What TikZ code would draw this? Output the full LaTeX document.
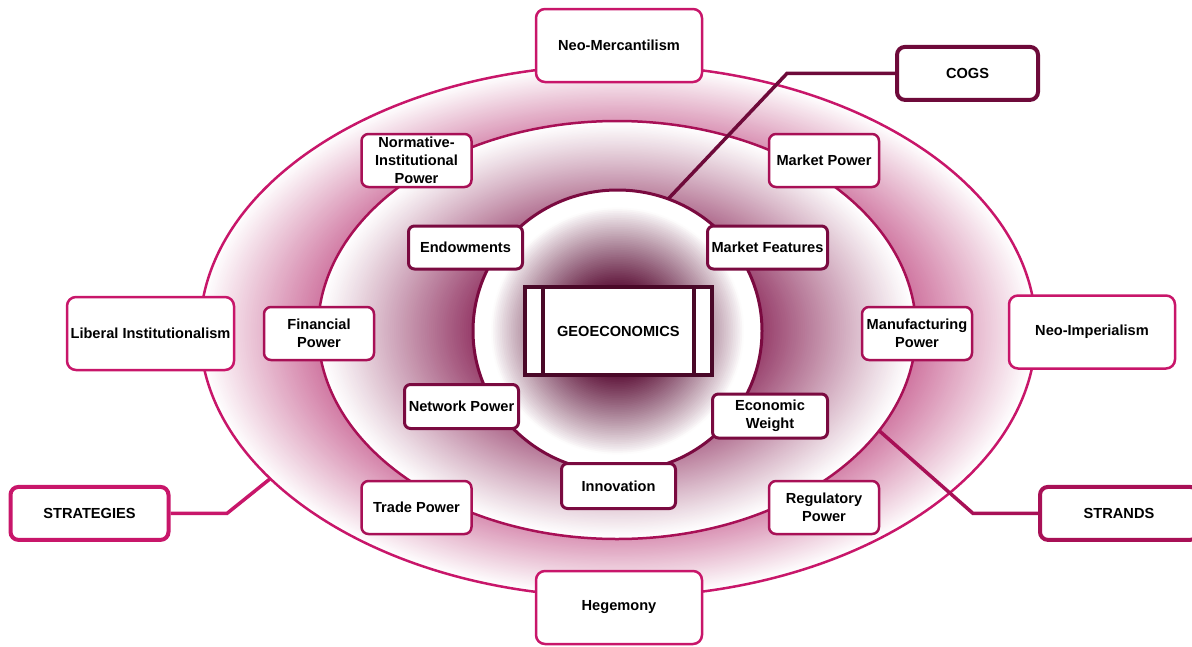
\documentclass[tikz,border=0pt]{standalone}
\usepackage{fontspec}
\setmainfont{Liberation Sans}
\usetikzlibrary{shapes.geometric}

% stroke colours of the three rings and their boxes
\definecolor{outerc}{RGB}{200,22,106}
\definecolor{midc}{RGB}{168,16,86}
\definecolor{innc}{RGB}{122,10,64}
\definecolor{cogsc}{RGB}{110,10,58}
\definecolor{geoc}{RGB}{74,8,40}
% glow colours of the ring fills
\definecolor{glowA}{RGB}{205,110,155}
\definecolor{glowB}{RGB}{150,60,105}
\definecolor{glowC}{RGB}{92,16,55}

\tikzset{
  lbl/.style={font=\fontsize{14.6}{18}\selectfont\bfseries, align=center,
    fill=white, inner sep=2pt},
  outerbox/.style={lbl, draw=outerc, line width=2.5pt, rounded corners=9pt,
    minimum width=166pt, minimum height=73pt},
  midbox/.style={lbl, draw=midc, line width=2.5pt, rounded corners=7pt,
    minimum width=110pt, minimum height=53pt},
  innerbox/.style={lbl, draw=innc, line width=3pt, rounded corners=6pt,
    minimum width=114pt, minimum height=43pt},
  tagbox/.style={lbl, line width=4pt, rounded corners=8pt,
    minimum width=141pt, minimum height=53pt},
  ring/.style={ellipse, inner sep=0pt, outer sep=0pt, line width=2.5pt},
  link/.style={line width=3.5pt, line join=miter},
}

\begin{document}
\begin{tikzpicture}[x=1pt,y=-1pt]
\useasboundingbox (0,0) rectangle (1192,646);

% glow of the outer ring: white at the rim, pink towards the middle
\foreach \k in {0,...,70} {
  \pgfmathsetmacro\f{1-0.34*\k/70}
  \pgfmathsetmacro\p{100*min(1,max(0,(1-\f)/0.30))}
  \fill[glowA!\p!white] (618,331) ellipse [x radius={418*\f}, y radius={266*\f}];
}
% glow of the middle ring
\foreach \k in {0,...,80} {
  \pgfmathsetmacro\f{1-0.55*\k/80}
  \pgfmathsetmacro\p{100*pow(min(1,max(0,(1-\f)/0.52)),1.1)}
  \fill[glowB!\p!white] (617,330) ellipse [x radius={299*\f}, y radius={209*\f}];
}
% dark glow at the heart of the inner circle
\foreach \k in {0,...,80} {
  \pgfmathsetmacro\f{1-\k/80}
  \pgfmathsetmacro\p{100*pow(min(1,max(0,(0.88-\f)/0.58)),0.9)}
  \fill[glowC!\p!white] (617.5,331) ellipse [x radius={144.5*\f}, y radius={141*\f}];
}

% the three nested rings
\node[ring, draw=outerc, minimum width=836pt, minimum height=532pt]
  (outer) at (618,331) {};
\node[ring, draw=midc, minimum width=598pt, minimum height=418pt]
  (middle) at (617,330) {};
\node[ring, draw=innc, line width=3pt, minimum width=289pt, minimum height=282pt]
  (inner) at (617.5,331) {};

% legend tags
\node[tagbox, draw=cogsc] (cogs) at (967.5,73.4) {COGS};
\node[tagbox, draw=outerc, minimum width=158pt] (strategies) at (89.5,513.4) {STRATEGIES};
\node[tagbox, draw=midc, minimum width=158pt] (strands) at (1119,513.4) {STRANDS};

% bend points of the tag connectors
\coordinate (cogsbend) at (787,73.4);
\coordinate (strandsbend) at (973,513.4);
\coordinate (stratbend) at (227,513.4);

\draw[link, draw=cogsc] (inner.69.6) -- (cogsbend) -- (cogs.west);
\draw[link, draw=midc] (middle.-21.5) -- (strandsbend) -- (strands.west);
\draw[link, draw=outerc] (outer.203) -- (stratbend) -- (strategies.east);

% outer ring: strategies
\node[outerbox] (merc) at (619,45.5) {Neo-Mercantilism};
\node[outerbox, minimum width=167pt] (liberal) at (150.5,333.5) {Liberal Institutionalism};
\node[outerbox] (imper) at (1092,332) {Neo-Imperialism};
\node[outerbox] (hege) at (619,607.5) {Hegemony};

% middle ring: strands
\node[midbox] (norm) at (416.5,160.5) {Normative-\\Institutional\\Power};
\node[midbox] (mpow) at (824,160.5) {Market Power};
\node[midbox] (fin) at (319,333.5) {Financial\\Power};
\node[midbox] (manu) at (917,333.5) {Manufacturing\\Power};
\node[midbox] (trade) at (416.5,507.5) {Trade Power};
\node[midbox] (reg) at (824,507.5) {Regulatory\\Power};

% inner ring: cogs
\node[innerbox] (endow) at (465.5,247.5) {Endowments};
\node[innerbox, minimum width=120pt] (mfeat) at (767.5,247.5) {Market Features};
\node[innerbox, minimum height=44pt] (net) at (461.5,406.5) {Network Power};
\node[innerbox, minimum height=44pt, minimum width=115pt] (econ) at (770,416) {Economic\\Weight};
\node[innerbox, minimum height=45pt] (innov) at (618.5,486) {Innovation};

% centre
\node[lbl, draw=geoc, line width=4pt, minimum width=187pt, minimum height=88pt]
  (geo) at (618.3,331.2) {GEOECONOMICS};
\draw[geoc, line width=4pt] ([xshift=20pt]geo.north west) -- ([xshift=20pt]geo.south west);
\draw[geoc, line width=4pt] ([xshift=-20pt]geo.north east) -- ([xshift=-20pt]geo.south east);
\end{tikzpicture}
\end{document}
